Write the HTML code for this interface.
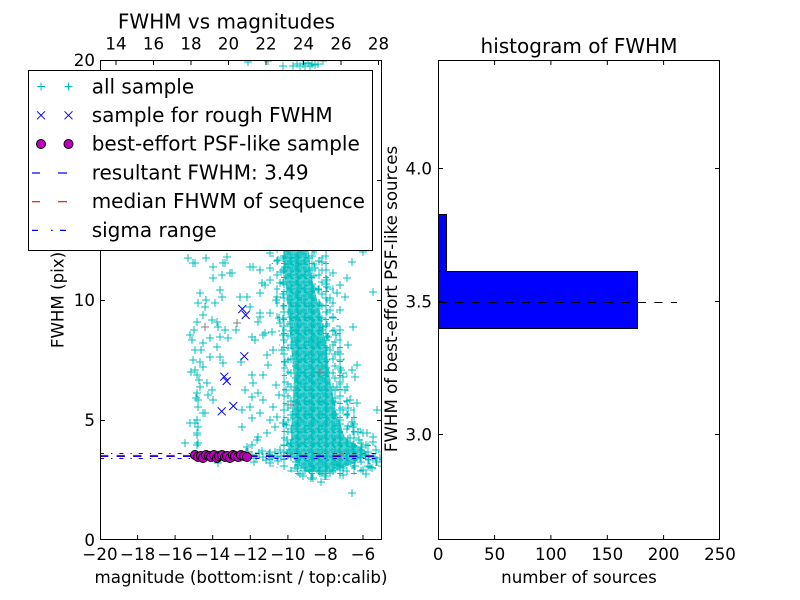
<!DOCTYPE html>
<html><head><meta charset="utf-8"><style>
html,body{margin:0;padding:0;background:#fff;}
svg{display:block;font-family:"DejaVu Sans","Liberation Sans",sans-serif;}
</style></head><body>
<svg width="800" height="600" viewBox="0 0 800 600" xmlns="http://www.w3.org/2000/svg">
<defs>
<pattern id="pp" width="14" height="14" patternUnits="userSpaceOnUse">
<path d="M0 4h8M4 0v8M7 9h7M11 5v8M1 11.5h6M4 8.5v5.5" stroke="#00bfbf" stroke-width="1" fill="none"/>
</pattern>
<pattern id="pp2" width="13" height="12" patternUnits="userSpaceOnUse" x="5" y="3">
<path d="M1 3h8M5 0v7M8 9h5M10 6v6" stroke="#00bfbf" stroke-width="1" fill="none"/>
</pattern>
<pattern id="pd" width="7" height="7" patternUnits="userSpaceOnUse">
<path d="M0 2h6M3 0v5M3 5.5h4M5 3v4" stroke="#00bfbf" stroke-width="1" fill="none"/>
</pattern>
<clipPath id="cl"><rect x="100" y="60" width="282" height="480"/></clipPath>
</defs>
<rect width="800" height="600" fill="#fff"/>

<g clip-path="url(#cl)">
<!-- halo -->
<polygon points="270,245 274,290 278,330 282,380 283,420 280,446 262,451 262,463 290,472 305,480 335,480 360,473 381,468 381,448 365,440 356,415 348,380 342,340 336,300 330,270 328,245" fill="url(#pp)"/>
<polygon points="276,245 279,290 282,330 286,380 287,420 285,446 290,468 320,476 350,470 372,460 360,442 350,415 343,380 337,340 331,300 325,270 322,245" fill="url(#pp2)"/>
<!-- core -->
<polygon points="283,245 285,280 288,310 291,345 294,378 292,412 291,438 287,452 296,462 306,472 332,472 355,463 368,452 345,438 336,411 330,378 326,345 320,311 312,280 308,245" fill="#00bfbf" fill-opacity="0.7"/>
<polygon points="283,245 285,280 288,310 291,345 294,378 292,412 291,438 287,452 296,462 306,472 332,472 355,463 368,452 345,438 336,411 330,378 326,345 320,311 312,280 308,245" fill="url(#pd)"/>
<!-- sparse cyan points -->
<path fill="none" stroke="#00bfbf" stroke-width="1" d="
M195 263m0-4v8m-4-4h8M213 267m0-4v8m-4-4h8M225 263m0-4v8m-4-4h8M230 273m0-4v8m-4-4h8M222 275m0-4v8m-4-4h8M213 278m0-4v8m-4-4h8M200 293m0-4v8m-4-4h8M220 290m0-4v8m-4-4h8M222 297m0-4v8m-4-4h8M198 303m0-4v8m-4-4h8M205 307m0-4v8m-4-4h8M215 303m0-4v8m-4-4h8M203 315m0-4v8m-4-4h8M197 322m0-4v8m-4-4h8M217 322m0-4v8m-4-4h8M218 327m0-4v8m-4-4h8M225 330m0-4v8m-4-4h8M190 335m0-4v8m-4-4h8M210 338m0-4v8m-4-4h8M220 337m0-4v8m-4-4h8M228 338m0-4v8m-4-4h8M203 343m0-4v8m-4-4h8M195 350m0-4v8m-4-4h8M217 347m0-4v8m-4-4h8M193 360m0-4v8m-4-4h8M200 362m0-4v8m-4-4h8M210 357m0-4v8m-4-4h8M220 357m0-4v8m-4-4h8M223 363m0-4v8m-4-4h8M203 367m0-4v8m-4-4h8M195 370m0-4v8m-4-4h8M197 375m0-4v8m-4-4h8M207 383m0-4v8m-4-4h8M200 387m0-4v8m-4-4h8M212 390m0-4v8m-4-4h8M197 393m0-4v8m-4-4h8M208 395m0-4v8m-4-4h8M198 400m0-4v8m-4-4h8M213 400m0-4v8m-4-4h8M203 413m0-4v8m-4-4h8M197 420m0-4v8m-4-4h8M190 423m0-4v8m-4-4h8M198 427m0-4v8m-4-4h8M197 435m0-4v8m-4-4h8M185 443m0-4v8m-4-4h8M197 445m0-4v8m-4-4h8M198 407m0-4v8m-4-4h8M195 423m0-4v8m-4-4h8M197 433m0-4v8m-4-4h8M198 443m0-4v8m-4-4h8M205 413m0-4v8m-4-4h8M193 263m0-4v8m-4-4h8M223 263m0-4v8m-4-4h8M227 257m0-4v8m-4-4h8M232 273m0-4v8m-4-4h8M188 258m0-4v8m-4-4h8M206 258m0-4v8m-4-4h8M192 340m0-4v8m-4-4h8M194 330m0-4v8m-4-4h8M199 380m0-4v8m-4-4h8M196 398m0-4v8m-4-4h8M201 350m0-4v8m-4-4h8M191 372m0-4v8m-4-4h8M212 320m0-4v8m-4-4h8M206 300m0-4v8m-4-4h8
M250 267m0-4v8m-4-4h8M260 270m0-4v8m-4-4h8M270 268m0-4v8m-4-4h8M247 297m0-4v8m-4-4h8M260 293m0-4v8m-4-4h8M265 285m0-4v8m-4-4h8M250 307m0-4v8m-4-4h8M260 313m0-4v8m-4-4h8M258 322m0-4v8m-4-4h8M252 337m0-4v8m-4-4h8M255 340m0-4v8m-4-4h8M267 355m0-4v8m-4-4h8M273 350m0-4v8m-4-4h8M252 375m0-4v8m-4-4h8M263 375m0-4v8m-4-4h8M253 383m0-4v8m-4-4h8M258 393m0-4v8m-4-4h8M252 397m0-4v8m-4-4h8M263 400m0-4v8m-4-4h8M260 413m0-4v8m-4-4h8M252 418m0-4v8m-4-4h8M273 407m0-4v8m-4-4h8M277 417m0-4v8m-4-4h8M283 423m0-4v8m-4-4h8M275 427m0-4v8m-4-4h8M267 433m0-4v8m-4-4h8M257 440m0-4v8m-4-4h8M247 447m0-4v8m-4-4h8M242 427m0-4v8m-4-4h8M250 407m0-4v8m-4-4h8M242 410m0-4v8m-4-4h8M263 335m0-4v8m-4-4h8M272 332m0-4v8m-4-4h8M270 280m0-4v8m-4-4h8M280 283m0-4v8m-4-4h8M277 297m0-4v8m-4-4h8M285 267m0-4v8m-4-4h8M270 313m0-4v8m-4-4h8M280 323m0-4v8m-4-4h8M253 267m0-4v8m-4-4h8M270 253m0-4v8m-4-4h8M262 283m0-4v8m-4-4h8M240 297m0-4v8m-4-4h8M260 317m0-4v8m-4-4h8M265 333m0-4v8m-4-4h8M252 445m0-4v8m-4-4h8M258 437m0-4v8m-4-4h8M287 440m0-4v8m-4-4h8M270 420m0-4v8m-4-4h8M236 330m0-4v8m-4-4h8M241 362m0-4v8m-4-4h8M245 390m0-4v8m-4-4h8M268 365m0-4v8m-4-4h8M276 385m0-4v8m-4-4h8M282 350m0-4v8m-4-4h8M279 395m0-4v8m-4-4h8M284 410m0-4v8m-4-4h8
M347 278m0-4v8m-4-4h8M333 273m0-4v8m-4-4h8M327 287m0-4v8m-4-4h8M337 293m0-4v8m-4-4h8M320 305m0-4v8m-4-4h8M330 310m0-4v8m-4-4h8M340 310m0-4v8m-4-4h8M323 327m0-4v8m-4-4h8M340 330m0-4v8m-4-4h8M328 337m0-4v8m-4-4h8M317 343m0-4v8m-4-4h8M330 350m0-4v8m-4-4h8M340 360m0-4v8m-4-4h8M352 370m0-4v8m-4-4h8M343 377m0-4v8m-4-4h8M355 377m0-4v8m-4-4h8M337 387m0-4v8m-4-4h8M357 403m0-4v8m-4-4h8M350 400m0-4v8m-4-4h8M343 410m0-4v8m-4-4h8M340 420m0-4v8m-4-4h8M353 427m0-4v8m-4-4h8M363 433m0-4v8m-4-4h8M350 438m0-4v8m-4-4h8M362 447m0-4v8m-4-4h8M373 292m0-4v8m-4-4h8M367 433m0-4v8m-4-4h8M373 442m0-4v8m-4-4h8M370 467m0-4v8m-4-4h8M352 447m0-4v8m-4-4h8M337 465m0-4v8m-4-4h8M343 468m0-4v8m-4-4h8M330 473m0-4v8m-4-4h8M320 473m0-4v8m-4-4h8M297 468m0-4v8m-4-4h8M313 478m0-4v8m-4-4h8M352 493m0-4v8m-4-4h8M295 468m0-4v8m-4-4h8M218 463m0-4v8m-4-4h8M297 457m0-4v8m-4-4h8M345 297m0-4v8m-4-4h8M363 252m0-4v8m-4-4h8M353 327m0-4v8m-4-4h8M357 365m0-4v8m-4-4h8M377 410m0-4v8m-4-4h8M373 437m0-4v8m-4-4h8M343 475m0-4v8m-4-4h8M311 478m0-4v8m-4-4h8M352 262m0-4v8m-4-4h8M340 285m0-4v8m-4-4h8M348 345m0-4v8m-4-4h8M335 398m0-4v8m-4-4h8M346 452m0-4v8m-4-4h8M376 462m0-4v8m-4-4h8M366 474m0-4v8m-4-4h8M321 482m0-4v8m-4-4h8M303 476m0-4v8m-4-4h8M359 440m0-4v8m-4-4h8M368 456m0-4v8m-4-4h8
M278 260m0-4v8m-4-4h8M281 272m0-4v8m-4-4h8M276 300m0-4v8m-4-4h8M279 318m0-4v8m-4-4h8M283 335m0-4v8m-4-4h8M285 362m0-4v8m-4-4h8M286 390m0-4v8m-4-4h8M288 405m0-4v8m-4-4h8M286 425m0-4v8m-4-4h8M284 445m0-4v8m-4-4h8M322 262m0-4v8m-4-4h8M327 280m0-4v8m-4-4h8M330 298m0-4v8m-4-4h8M333 318m0-4v8m-4-4h8M336 335m0-4v8m-4-4h8M338 352m0-4v8m-4-4h8M341 370m0-4v8m-4-4h8M345 390m0-4v8m-4-4h8M348 408m0-4v8m-4-4h8M352 422m0-4v8m-4-4h8M358 432m0-4v8m-4-4h8M366 445m0-4v8m-4-4h8M300 474m0-4v8m-4-4h8M310 470m0-4v8m-4-4h8M325 476m0-4v8m-4-4h8M340 470m0-4v8m-4-4h8M290 258m0-4v8m-4-4h8M296 266m0-4v8m-4-4h8M315 268m0-4v8m-4-4h8M318 290m0-4v8m-4-4h8
M252 455m0-4v8m-4-4h8M256 458m0-4v8m-4-4h8M259 453m0-4v8m-4-4h8M263 457m0-4v8m-4-4h8M266 460m0-4v8m-4-4h8M269 454m0-4v8m-4-4h8M272 458m0-4v8m-4-4h8M275 452m0-4v8m-4-4h8M278 461m0-4v8m-4-4h8M281 456m0-4v8m-4-4h8M284 459m0-4v8m-4-4h8M287 453m0-4v8m-4-4h8M360 458m0-4v8m-4-4h8M365 455m0-4v8m-4-4h8M369 460m0-4v8m-4-4h8M373 457m0-4v8m-4-4h8M377 462m0-4v8m-4-4h8M380 458m0-4v8m-4-4h8M355 466m0-4v8m-4-4h8M363 470m0-4v8m-4-4h8M372 468m0-4v8m-4-4h8M246 452m0-4v8m-4-4h8M241 458m0-4v8m-4-4h8M376 450m0-4v8m-4-4h8M254 462m0-4v8m-4-4h8M262 451m0-4v8m-4-4h8M270 463m0-4v8m-4-4h8M280 450m0-4v8m-4-4h8
M248 62m0-4v8m-4-4h8M283 66m0-4v8m-4-4h8M297 64m0-4v8m-4-4h8M300 66m0-4v8m-4-4h8M303 64m0-4v8m-4-4h8M305 66m0-4v8m-4-4h8M308 63m0-4v8m-4-4h8M310 66m0-4v8m-4-4h8M312 64m0-4v8m-4-4h8M315 65m0-4v8m-4-4h8M318 64m0-4v8m-4-4h8M268 61m0-4v8m-4-4h8M323 61m0-4v8m-4-4h8M293 66m0-4v8m-4-4h8"/>
<!-- grey points -->
<path fill="none" stroke="#808080" stroke-width="1" d="M205 327m0-4v8m-4-4h8M237 323m0-4v8m-4-4h8M291 405m0-4v8m-4-4h8M320 372m0-4v8m-4-4h8M248 452m0-4v8m-4-4h8M340 455m0-4v8m-4-4h8"/>
<!-- blue x -->
<path fill="none" stroke="#0000ff" stroke-width="1" d="M242.3 309m-4-4l8 8m0-8l-8 8M245.7 315m-4-4l8 8m0-8l-8 8M244.3 356.3m-4-4l8 8m0-8l-8 8M224.3 376.7m-4-4l8 8m0-8l-8 8M226.7 381m-4-4l8 8m0-8l-8 8M221.7 411.3m-4-4l8 8m0-8l-8 8M233.3 406m-4-4l8 8m0-8l-8 8"/>
<!-- horizontal lines -->
<line x1="100" y1="453.5" x2="382" y2="453.5" stroke="#0000ff" stroke-width="1" stroke-dasharray="4 7 1.4 7"/>
<line x1="100" y1="458.5" x2="382" y2="458.5" stroke="#0000ff" stroke-width="1" stroke-dasharray="4 7 1.4 7"/>
<line x1="100" y1="456.5" x2="382" y2="456.5" stroke="#0000ff" stroke-width="1" stroke-dasharray="8.3 8.3"/>
<line x1="100" y1="455.5" x2="382" y2="455.5" stroke="#ff0000" stroke-width="1.2" stroke-dasharray="8.3 8.3"/>
<!-- circles -->
<g fill="#bf00bf" stroke="#000" stroke-width="1">
<circle cx="195" cy="455" r="4.5"/><circle cx="198" cy="457" r="4.5"/><circle cx="201" cy="456" r="4.5"/><circle cx="203" cy="458" r="4.5"/><circle cx="206" cy="455" r="4.5"/><circle cx="209" cy="456" r="4.5"/><circle cx="211" cy="457" r="4.5"/><circle cx="214" cy="455" r="4.5"/><circle cx="217" cy="458" r="4.5"/><circle cx="219" cy="456" r="4.5"/><circle cx="222" cy="455" r="4.5"/><circle cx="225" cy="457" r="4.5"/><circle cx="227" cy="456" r="4.5"/><circle cx="230" cy="458" r="4.5"/><circle cx="233" cy="455" r="4.5"/><circle cx="235" cy="456" r="4.5"/><circle cx="238" cy="457" r="4.5"/><circle cx="241" cy="455" r="4.5"/><circle cx="244" cy="456" r="4.5"/><circle cx="247" cy="457" r="4.5"/>
</g>
</g>

<!-- left axes frame & ticks -->
<rect x="100.5" y="60.5" width="281" height="479" fill="none" stroke="#000" stroke-width="1"/>
<path stroke="#000" stroke-width="1" fill="none" d="
M137.6 540v-5M175.1 540v-5M212.7 540v-5M250.3 540v-5M287.9 540v-5M325.4 540v-5M363 540v-5
M116 60v5M153.5 60v5M191 60v5M228.5 60v5M266 60v5M303.5 60v5M341 60v5M378.5 60v5
M100 420.5h5M100 300.5h5M100 180.5h5
M382 420.5h-5M382 300.5h-5M382 180.5h-5"/>
<g font-size="16.67" fill="#000" text-anchor="middle">
<text x="100" y="560">−20</text><text x="137.6" y="560">−18</text><text x="175.1" y="560">−16</text><text x="212.7" y="560">−14</text><text x="250.3" y="560">−12</text><text x="287.9" y="560">−10</text><text x="325.4" y="560">−8</text><text x="363" y="560">−6</text>
<text x="116" y="49.5">14</text><text x="153.5" y="49.5">16</text><text x="191" y="49.5">18</text><text x="228.5" y="49.5">20</text><text x="266" y="49.5">22</text><text x="303.5" y="49.5">24</text><text x="341" y="49.5">26</text><text x="378.5" y="49.5">28</text>
<text x="241" y="583">magnitude (bottom:isnt / top:calib)</text>
<text transform="translate(63.5,300) rotate(-90)">FWHM (pix)</text>
</g>
<g font-size="16.67" fill="#000" text-anchor="end">
<text x="95" y="546">0</text><text x="95" y="426">5</text><text x="95" y="306">10</text><text x="95" y="186">15</text><text x="95" y="66">20</text>
</g>
<text x="226.5" y="28.5" font-size="20" text-anchor="middle" fill="#000">FWHM vs magnitudes</text>

<!-- right axes -->
<rect x="438.5" y="214.5" width="8" height="57" fill="#0000ff" stroke="#000" stroke-width="1"/>
<rect x="438.5" y="271.5" width="199" height="57" fill="#0000ff" stroke="#000" stroke-width="1"/>
<line x1="438.5" y1="302.5" x2="677" y2="302.5" stroke="#000" stroke-width="1" stroke-dasharray="8.3 8.3"/>
<rect x="438.5" y="60.5" width="281" height="479" fill="none" stroke="#000" stroke-width="1"/>
<path stroke="#000" stroke-width="1" fill="none" d="
M494.6 540v-5M550.9 540v-5M607.3 540v-5M663.6 540v-5
M494.6 60v5M550.9 60v5M607.3 60v5M663.6 60v5
M438 168.5h5M438 301.5h5M438 434.5h5
M720 168.5h-5M720 301.5h-5M720 434.5h-5"/>
<g font-size="16.67" fill="#000" text-anchor="middle">
<text x="438.2" y="560">0</text><text x="494.6" y="560">50</text><text x="550.9" y="560">100</text><text x="607.3" y="560">150</text><text x="663.6" y="560">200</text><text x="720" y="560">250</text>
<text x="579" y="583">number of sources</text>
<text transform="translate(397,299) rotate(-90)">FWHM of best-effort PSF-like sources</text>
</g>
<g font-size="16.67" fill="#000" text-anchor="end">
<text x="432" y="174.5">4.0</text><text x="432" y="307.5">3.5</text><text x="432" y="440.5">3.0</text>
</g>
<text x="579" y="53" font-size="20" text-anchor="middle" fill="#000">histogram of FWHM</text>

<!-- legend -->
<rect x="28.5" y="70.5" width="344" height="180" fill="#fff" stroke="#000" stroke-width="1"/>
<path fill="none" stroke="#00bfbf" stroke-width="1" d="M41 86.5m0-4v8m-4-4h8M68.5 86.5m0-4v8m-4-4h8"/>
<path fill="none" stroke="#0000ff" stroke-width="1" d="M41 115.3m-4-4l8 8m0-8l-8 8M68.5 115.3m-4-4l8 8m0-8l-8 8"/>
<circle cx="41" cy="144" r="4.5" fill="#bf00bf" stroke="#000" stroke-width="1"/>
<circle cx="68.5" cy="144" r="4.5" fill="#bf00bf" stroke="#000" stroke-width="1"/>
<path stroke="#0000ff" stroke-width="1.2" d="M32 173h8M58 173h9"/>
<path stroke="#ff0000" stroke-width="1.2" d="M32 201.7h8M58 201.7h9"/>
<path stroke="#0000ff" stroke-width="1.2" d="M32 230.4h6M51 230.4h1.6M60 230.4h6"/>
<g font-size="20" fill="#000">
<text x="91.7" y="93.3">all sample</text>
<text x="91.7" y="122">sample for rough FWHM</text>
<text x="91.7" y="150.7">best-effort PSF-like sample</text>
<text x="91.7" y="179.4">resultant FWHM: 3.49</text>
<text x="91.7" y="208.1">median FHWM of sequence</text>
<text x="91.7" y="236.8">sigma range</text>
</g>
</svg>
</body></html>
